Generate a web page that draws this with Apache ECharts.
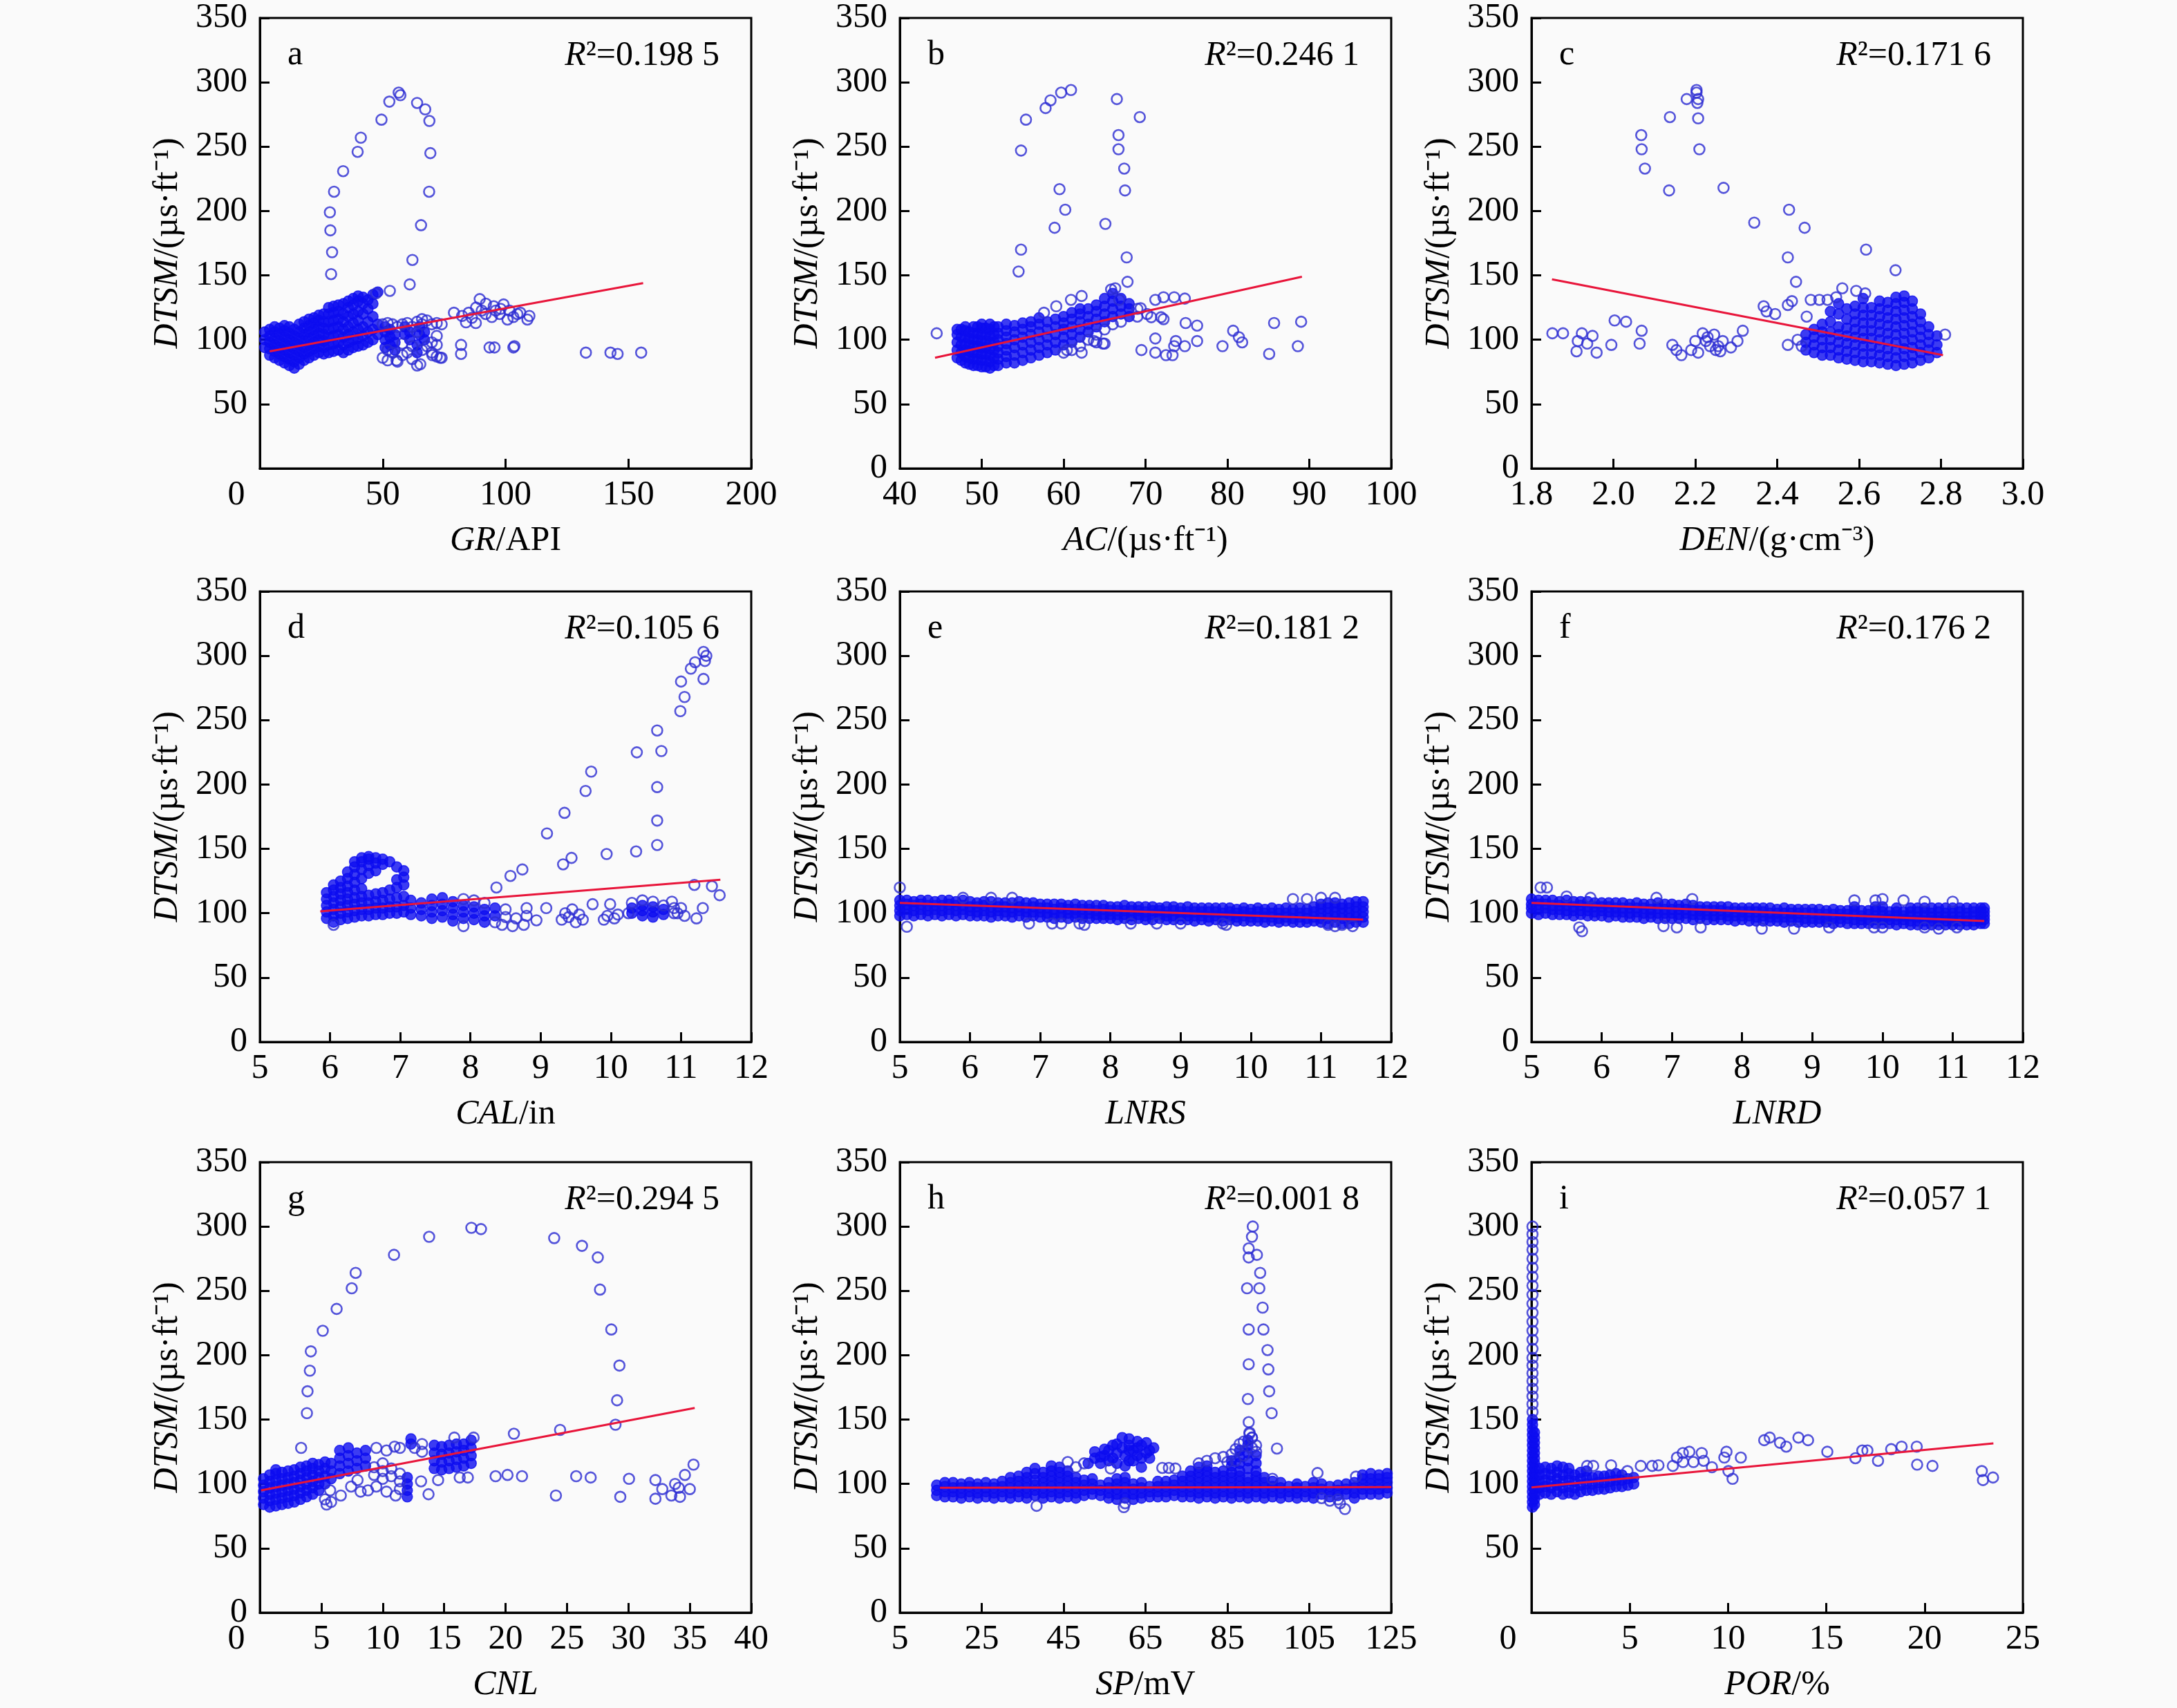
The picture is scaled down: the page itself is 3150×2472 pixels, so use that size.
<!DOCTYPE html>
<html>
<head>
<meta charset="utf-8">
<script src="https://cdn.jsdelivr.net/npm/echarts@6/dist/echarts.min.js"></script>
<style>
  html, body { margin: 0; padding: 0; background: #fafafa; }
  #chart { width: 3150px; height: 2472px; }
</style>
</head>
<body>
<div id="chart"></div>
<script>
// ---- data ----
// "cols" rows are [x, y1, y2, ...] (a stack of points at one x) for the dense clouds,
// "pts" are single [x, y] points, fit lines are [[x0, y0], [x1, y1]]

const aCols = [
  [2,94,100,106],[4,88,93,98,103,108],[6,86,91,96,101,106,110],[8,84,89,94,99,104,109],
  [10,82,87,92,97,102,107,111],[12,80,85,90,95,100,105,110],[14,78,83,88,93,98,103,108],
  [16,81,86,91,96,101,106,112],[18,84,89,94,99,104,109,114],[20,86,91,96,101,106,111,116],
  [22,88,93,98,103,108,113,117],[24,90,95,100,105,110,115,119],[26,89,94,99,104,109,114,120],
  [28,90,96,102,108,114,120,125],[30,91,97,103,109,115,121,126],[32,92,98,104,110,116,122,127],
  [34,90,96,102,108,114,120,128],[36,92,98,104,110,118,125,130],[38,94,100,106,113,120,127,132],
  [40,95,101,108,115,122,130,134],[42,96,103,110,120,128,133],[44,98,106,114,124,131],
  [46,100,108,118,128,135],[48,104,112,137],
  [51,94,100,106,110],[53,96,102,108],[55,92,98,104],[59,104,110],[61,100,106],[64,90,96],[65,104,110],[67,100,106]
];
const aBand = [
  [50,86,112],[52,84,92,113],[54,90,112],[56,83,110],[58,88,97,112],
  [60,90,113],[62,85,95,110],[64,80,106,114],[66,92,112,116],[68,95,115],
  [70,90,98,112],[72,87,96,103,113]
];
const aPts = [
  [29.0,151],[29.4,168],[28.7,185],[28.5,199],[30.2,215],[33.9,231],[39.8,246],[41.1,257],[49.5,271],
  [52.7,285],[56.5,292],[57.2,290],[64.0,284],[67.3,279],[69.0,270],[69.4,245],[68.9,215],[65.6,189],
  [62.1,162],[61.0,143],[52.9,138],[47.3,136],[74,86],[74,112],
  [81.9,96],[81.9,89],[93.5,94],[95.5,94],[103.2,94],[103.6,95],[132.7,90],[142.7,90],[145.6,89],[155.2,90],
  [79,121],[83.9,113.5],[89.5,131.6],[95.2,126],[99.2,127.4],[104.8,120],[108.9,115.7],[109.7,118.5],
  [86.3,117],[90.3,122.7],[91.9,120],[96,122.7],[101.6,122.7],[103.2,117.7],[82.3,118.5],[87.9,113],
  [94.4,117.7],[97.6,120],[100.8,115.7],[85,121],[88,125],[92,128],[98,124],[106,121],
  [73.4,86],[70.2,88],[65.3,81],[55.6,84]
];
const aFit = [[4,91],[156,144]];

const bCols = [
  [47,86,92,98,104,108],[47.5,84,90,96,102,108],[48,82,87,92,97,102,107,110],[48.5,81,86,91,96,101,106],
  [49,80,85,90,95,100,105,110],[49.5,80,85,90,95,100,105,110],[50,79,84,89,94,99,104,109,112],
  [50.5,79,84,89,94,99,104,109],[51,78,83,88,93,98,103,108,112],[51.5,80,86,92,98,104,110],
  [52,80,85,90,95,100,105,110],[53,82,87,92,97,102,107,112],[54,82,88,94,100,106,111],
  [55,84,90,96,102,108,113],[56,86,92,98,104,110,114],[57,88,94,100,106,112,117],[58,90,96,102,108,114],
  [59,92,98,104,110,116],[60,96,102,108,113,118],[61,98,104,110,116,121],[62,102,108,114,120,124],
  [63,106,112,118,124],[64,110,116,122,127],[65,114,120,126,132],[66,118,124,130,136],
  [67,120,126,132],[68,118,124,128]
];
const bPts = [
  [44.5,105],[54.5,153],[54.8,170],[54.8,247],[55.4,271],[57.8,280],[58.4,286],[59.7,292],[60.9,294],
  [59.5,217],[60.2,201],[58.9,187],[66.5,287],[66.7,259],[66.7,248],[67.4,233],[67.5,216],[65.1,190],
  [67.7,164],[67.8,145],[69.3,273],[65.8,139],
  [69.5,92],[71.2,101],[71.2,90],[72.2,116],[72.5,88],[73.3,88],[73.5,95],[73.7,99],[74.9,113],[74.8,95],
  [76.3,111],[76.3,99],[79.4,95],[80.7,107],[81.4,102],[81.8,98],[85.1,89],[85.7,113],[88.6,95],[89,114],
  [73.5,133],[74.8,132],[72.2,133],[71.2,131],[71.9,117.5],[70.7,117.5],[69.4,124.5],[70.2,120],
  [57.6,121],[59.1,126],[60.9,131],[62.2,134],[60.4,92],[62.2,90],[63.7,99],[64.8,97],[66.3,140],[66.8,131],
  [60,90],[61,92],[62,95],[63,100],[64,104],[64,98],[65,108],[65,97],[66,112],[67,114],[69,118],[69,124]
];
const bFit = [[44.3,86],[89.1,149]];

const cCols = [
  [2.47,92,98,104],[2.49,90,96,102,108],[2.51,88,94,100,106,112],[2.53,88,94,100,106,114,122],
  [2.55,86,92,98,104,110,120,128],[2.57,85,91,97,103,109,116,124],[2.59,84,90,96,102,108,114,120,126],
  [2.61,83,89,95,101,107,113,119,125,132],[2.63,83,89,95,101,107,113,119,125],
  [2.65,82,88,94,100,106,112,118,124,130],[2.67,81,87,93,99,105,111,117,123,129],
  [2.69,80,86,92,98,104,110,116,122,128,133],[2.71,81,87,93,99,105,111,117,123,129,134],
  [2.73,82,88,94,100,106,112,118,124,130],[2.75,84,90,96,102,108,114,120],[2.77,86,92,98,104,110],
  [2.79,90,96,103]
];
const cPts = [
  [2.068,259],[2.069,248],[2.077,233],[2.138,273],[2.136,216],[2.179,287],[2.203,294],[2.203,292],[2.205,284],
  [2.207,287],[2.207,272],[2.210,248],[2.269,218],[2.344,191],[2.429,201],[2.467,187],[2.426,164],[2.446,145],
  [2.617,170],[2.689,154],[2.81,104],
  [1.851,105],[1.877,105],[1.913,99],[1.910,91],[1.923,105],[1.936,97],[1.949,103],[1.959,90],[1.995,96],
  [2.003,115],[2.031,114],[2.069,107],[2.064,97],
  [2.144,96],[2.154,92],[2.166,88],[2.190,92],[2.200,99],[2.207,90],[2.218,105],[2.226,99],[2.236,95],
  [2.246,104],[2.256,95],[2.267,99],[2.261,91],[2.287,94],[2.303,99],[2.316,107],[2.23,102],[2.25,92],
  [2.367,126],[2.374,122],[2.395,120],[2.426,127],[2.436,130],[2.426,96],[2.482,131],[2.472,118],
  [2.503,131],[2.523,131],[2.559,140],[2.544,133],[2.593,138],[2.615,136],[2.45,100],[2.46,95]
];
const cFit = [[1.85,147],[2.805,88]];

const dCols = [
  [5.95,96,101,106,111,116],[6.05,93,98,103,108,113,118,122],[6.15,95,100,105,110,115,120,125],
  [6.25,96,101,106,111,116,121,127,132],[6.35,97,102,107,112,118,124,130,136,140],
  [6.45,98,103,108,113,119,127,134,140,143],[6.55,98,103,108,114,131,137,142,144],
  [6.65,99,104,109,115,133,139,143],[6.75,99,104,110,116,138,142],[6.85,100,105,111,118,140],
  [6.95,100,105,112,120,126,136],[7.05,101,106,113,122,128,133],[7.15,99,104,110],[7.3,98,103,108],
  [7.45,96,101,106,111],[7.6,97,102,107,112],[7.75,94,99,104,109],[7.9,96,101,106],
  [8.05,95,100,105],[8.2,93,98,103],[8.35,98,104],
  [10.3,100,104],[10.45,98,102,106],[10.6,97,101,105],[10.75,99,103]
];
const dPts = [
  [8.37,120],[8.57,129],[8.74,134],[9.09,162],[9.34,178],[9.32,138],[9.44,143],[9.64,195],[9.72,210],
  [9.94,146],[10.37,225],[10.36,148],[10.66,242],[10.72,226],[10.66,198],[10.66,172],[10.66,153],
  [10.99,257],[11.05,268],[11.0,280],[11.14,290],[11.20,295],[11.32,303],[11.34,296],[11.32,282],[11.36,300],
  [11.19,122],[11.44,121],[11.55,114],[11.31,104],[11.22,96],[9.74,107],[9.99,107],[9.08,104],[8.94,94.5],[8.76,91],
  [9.3,95],[9.35,100],[9.4,97],[9.5,93],[9.55,99],[9.6,95],[9.45,103],[9.9,95],[9.95,98],[10.05,96],[10.1,99],
  [10.25,100],[10.87,109],[10.95,100],[11.0,104],[11.05,98],[8.65,96],[8.8,98],[8.8,104],
  [6.05,91],[8.45,91],[8.6,90],[7.9,90],[7.9,111],[8.05,110],[8.2,108],[8.35,93],[8.5,97],[8.5,103],
  [10.45,110],[10.6,109],[10.75,106],[10.9,100],[10.9,104],[10.3,108]
];
const dFit = [[5.86,101.4],[11.56,126]];

const eCols = [
  [5.0,98,102,106,110],[5.1,99,103,107,110],[5.2,98,102,106,109],[5.3,99,103,107,110],[5.4,98,102,106,110],
  [5.5,99,103,106,109],[5.6,98,102,106,110],[5.7,99,103,107,110],[5.8,98,102,106,109],[5.9,99,103,106,110],
  [6.0,98,102,105,109],[6.1,98,101,105,108],[6.2,98,102,106,109],[6.3,97,101,105,109],[6.4,98,102,105,108],
  [6.5,98,101,105,108],[6.6,97,101,104,108],[6.7,98,102,105,109],[6.8,97,101,104,108],[6.9,98,101,105,108],
  [7.0,97,101,104,107],[7.1,97,100,104,107],[7.2,96,100,103,107],[7.3,97,100,104,107],[7.4,96,100,103,106],
  [7.5,97,100,103,107],[7.6,96,99,103,106],[7.7,96,100,103,106],[7.8,96,99,102,106],[7.9,96,99,103,106],
  [8.0,96,99,102,105],[8.1,95,99,102,105],[8.2,96,99,102,106],[8.3,95,98,102,105],[8.4,96,99,102,105],
  [8.5,95,98,101,105],[8.6,95,99,102,105],[8.7,96,99,102,104],[8.8,95,98,101,105],[8.9,95,98,102,105],
  [9.0,95,98,101,104],[9.1,95,98,101,105],[9.2,94,98,101,104],[9.3,95,98,101,104],[9.4,94,97,101,104],
  [9.5,95,98,101,104],[9.6,94,97,100,104],[9.7,95,98,101,104],[9.8,94,97,100,103],[9.9,94,98,101,104],
  [10.0,94,97,100,103],[10.1,94,97,101,104],[10.2,93,97,100,103],[10.3,94,97,100,104],[10.4,93,96,100,103],
  [10.5,94,97,100,104],[10.6,93,96,100,103],[10.7,93,97,100,104],[10.8,93,96,100,103],[10.9,94,97,101,105],
  [11.0,93,96,100,104,107],[11.1,92,96,100,104,108],[11.2,93,97,101,105,108],[11.3,92,96,100,104,107],
  [11.4,92,96,100,104,108],[11.5,93,97,101,105,109],[11.6,93,97,101,105,109]
];
const ePts = [
  [5.0,120],[5.1,89.5],[6.84,92],[7.17,92],[7.3,92],[7.56,92],[7.63,91],[8.29,92],[8.66,92],[9.0,92],
  [9.6,92],[9.65,91],[11.1,91],[11.2,90],[11.3,91],[11.45,90],[10.6,111],[10.8,111],[11.0,112],[11.2,112],
  [5.9,112],[6.3,112],[6.6,112]
];
const eFit = [[5.0,108],[11.6,95]];

const fCols = [
  [5.0,100,104,107,111],[5.1,99,103,107,110],[5.2,100,104,107,110],[5.3,99,103,106,110],[5.4,99,103,106,109],
  [5.5,99,102,106,110],[5.6,98,102,105,109],[5.7,99,102,106,109],[5.8,98,102,105,109],[5.9,98,101,105,108],
  [6.0,98,102,105,108],[6.1,97,101,105,108],[6.2,98,101,104,108],[6.3,97,101,104,108],[6.4,97,100,104,107],
  [6.5,97,101,104,108],[6.6,96,100,104,107],[6.7,97,100,103,107],[6.8,96,100,104,108],[6.9,96,100,103,107],
  [7.0,96,100,103,107],[7.1,96,99,103,106],[7.2,96,100,103,107],[7.3,95,99,102,106],[7.4,96,99,102,105],
  [7.5,95,99,102,105],[7.6,95,98,102,105],[7.7,95,99,102,105],[7.8,95,98,101,105],[7.9,94,98,101,104],
  [8.0,95,98,101,104],[8.1,94,98,101,104],[8.2,94,97,101,104],[8.3,94,98,101,104],[8.4,94,97,100,104],
  [8.5,94,97,100,103],[8.6,93,97,100,104],[8.7,94,97,100,103],[8.8,93,97,100,103],[8.9,93,96,100,103],
  [9.0,93,96,100,103],[9.1,93,96,99,103],[9.2,93,96,99,102],[9.3,92,96,99,103],[9.4,93,96,99,102],
  [9.5,92,96,99,102],[9.6,92,95,99,102,105],[9.7,92,95,98,102],[9.8,92,95,99,102],[9.9,92,95,98,102,105],
  [10.0,92,95,98,101,105],[10.1,92,95,98,101],[10.2,91,95,98,101,104],[10.3,92,95,98,101],[10.4,91,94,98,101,104],
  [10.5,91,94,97,101,104],[10.6,91,94,98,101,104],[10.7,91,94,97,100,104],[10.8,91,94,97,101,104],
  [10.9,91,94,97,100,104],[11.0,91,94,97,100,104],[11.1,91,94,97,101,104],[11.2,91,94,97,100,104],
  [11.3,91,94,98,101,104],[11.4,92,95,98,101,104],[11.45,92,95,98,101,104]
];
const fPts = [
  [5.13,120],[5.22,120],[5.68,89],[5.72,86],[6.88,90],[7.07,89],[7.41,89],[8.28,88],[8.74,88],[9.24,89],
  [9.88,89],[10.0,89],[10.6,89],[10.8,88],[11.06,89],[5.5,113],[5.84,112],[6.78,112],[7.29,111],[9.6,110],
  [9.9,110],[10.0,111],[10.3,110],[10.6,109],[11.0,109]
];
const fFit = [[5.0,108],[11.45,94]];

const gCols = [
  [0.3,84,89,94,99,104],[0.8,82,87,92,97,102,107],[1.3,83,88,93,98,103,108,111],[1.8,84,89,94,99,104,109],
  [2.3,85,90,95,100,105,110],[2.8,86,91,96,101,106,111],[3.3,88,93,98,103,108,113],[3.8,90,95,100,105,110,114],
  [4.3,92,97,102,107,112,116],[4.8,95,100,105,110,115],[5.3,100,106,112,117],[5.8,104,110,116],
  [6.5,108,114,120,126],[7.2,110,116,122,128],[7.9,112,118,124],[8.6,114,120,126],
  [12.0,90,95,100,105],[12.3,131,135],
  [14.2,112,118,124,130],[14.8,111,117,123,129],[15.4,112,118,124,130],[16.0,113,119,125,131],
  [16.6,114,120,126,131],[17.2,116,122,128,134]
];
const gPts = [
  [3.83,155],[3.88,172],[4.07,188],[4.15,203],[3.36,128],[5.12,219],[6.25,236],[7.48,252],[7.8,264],
  [10.92,278],[13.78,292],[17.22,299],[18.0,298],[23.96,291],[26.22,285],[27.51,276],[27.69,251],[28.61,220],
  [29.27,192],[29.08,165],[28.95,146],[24.44,142],[20.68,139],
  [24.1,91],[25.75,106],[26.93,105],[29.34,90],[30.05,104],[32.2,103],[32.2,88.5],[32.76,96],[33.5,91],
  [33.8,100],[34.2,90],[34.1,97],[34.6,107],[35.0,96],[35.3,115],
  [19.19,106],[20.16,107],[21.34,106],[16.27,105],[16.93,105],[14.51,103],[13.12,102],[13.73,92],[11.05,91],
  [10.31,94],[9.48,98],[8.8,95],[8.2,94],[7.43,98],[6.59,91],[7.95,103],[5.72,95],[5.43,84],[9.48,128],
  [10.31,126],[10.97,129],[17.4,136],[15.83,136],[5.3,88],[5.8,86],[9.3,107],[9.3,113],[10.0,104],
  [10.0,110],[10.0,116],[10.7,106],[10.7,112],[11.4,96],[11.4,102],[11.4,108],[11.4,128],[12.6,128],[13.2,125],[13.2,131]
];
const gFit = [[0.1,95],[35.4,159]];

const hCols = [
  [14,91,95,99],[16,90,94,98,101],[18,90,94,97,101],[20,89,93,97,100],[22,90,94,98,101],[24,89,93,97,100],
  [26,90,94,97,101],[28,89,93,97,100],[30,90,94,98,102],[32,89,93,97,101,105],[34,90,94,98,102,106],
  [36,89,93,97,101,105,109],[38,91,95,99,103,108,112],[40,89,93,97,101,105,109],
  [42,90,94,98,102,106,110,114],[44,89,93,97,101,105,109,113],[46,90,94,98,102,106,110],[48,89,93,97,101,105],
  [50,91,95,99,103],[52,92,96,100,104],[54,91,95,99],[56,89,93,97,101],[58,88,92,96,100,104],
  [60,89,93,97,101,105],[62,88,92,96,100],[64,89,93,97,101],[66,90,94,98],[68,90,94,98,102],
  [70,90,94,98,102],[72,91,95,99,103],[74,90,94,98,102,106],[76,90,94,98,102,106,110],
  [78,89,93,97,101,105,109,113],[80,90,94,98,102,106,110,114],[82,89,93,97,101,105,109],
  [84,90,94,98,102,106,110],[86,89,93,97,101,105,109,114,118],[88,90,94,98,102,106,110,116,121,126],
  [90,89,93,97,101,105,112,118,124,130,134],[92,90,94,98,102,106,110,116,122],[94,89,93,97,101,105],
  [96,90,94,98,102],[98,89,93,97,101],[100,90,94,98],[102,89,93,97,100],[104,90,94,98],[106,89,93,97,101],
  [108,92,96,100],[110,90,94,98],[112,91,95,99],[114,92,96,100],[116,89,93,97,101],
  [118,92,96,100,104,107],[120,92,96,100,104,108],[122,92,96,100,104,107],[124,93,97,101,105,108],
  [51,116],[52.6,120,125],[54,116,121],[55,122,127],[56,118,126],[57,120,130],[58,116,124,131],[59.3,128,136],
  [60,114,122],[61,118,126,130,135],[62,118,126],[63,122,128,133],[64,113,120,130],[65.2,124,132],[66,120,126],[67,128]
];
const hPts = [
  [50,116],[69.1,112.5],[70.7,112.5],[72.3,112],[56.5,112],[46,117],[48,113],
  [78,116],[80,118],[82,120],[84,121],[85,117],[86,123],[87,127],[88,131],[89,133],[90.4,139],[91,136],
  [91,128],[92,130],[92,125],[89,122],[87,118],
  [91.2,300],[91.0,292],[90.2,283],[92.2,278],[90.2,276],[93.0,264],[89.8,252],[92.8,252],[93.6,237],
  [90.2,220],[93.8,220],[94.8,204],[90.2,193],[95.0,189],[95.2,172],[90.0,166],[95.8,155],[90.2,148],
  [97.1,127.5],[90.4,140],[91.0,136],
  [38.4,83],[59.7,82],[60,85],[113.7,80.5],[112.5,85],[108,89],[110,87],[112,88],[107,108.5],[116.4,105.7],[96,104]
];
const hFit = [[14.8,97],[125,97.5]];
const hTicks = [5, 25, 45, 65, 85, 105, 125];

const iCols = [
  [0.05,82,86,90,94,98,102,106,110,114,118,122,126,130,134,138,142,146,150],
  [0.15,84,88,92,96,100,104,108,112,116,120,124,128,132,136,140],
  [0.4,92,97,102,107,112],[0.7,93,98,103,108,113],[1.0,92,97,102,107,112],[1.3,94,99,104,109,114],
  [1.6,92,97,102,107,113],[1.9,93,98,103,108,112],[2.2,92,97,102,107],[2.5,94,99,104,109],
  [2.8,95,100,105,110],[3.1,95,100,105],[3.4,96,101,106],[3.7,96,101,106],[4.0,97,102,107],
  [4.3,98,103,108],[4.6,98,103,107],[4.9,99,104],[5.2,100,105]
];
const iStripe = [0.05,156,162,168,174,180,186,192,198,205,212,219,226,233,240,247,254,261,268,275,282,288,294,300];
const iPts = [
  [2.83,114],[3.14,114],[4.05,114.5],[4.88,110],[5.56,114],[6.14,114],[6.46,114.5],[7.19,114],[7.4,120.5],
  [7.7,124],[8.03,125],[8.66,124],[8.76,118],[7.71,117],[8.24,117],[9.18,113],[9.81,120.5],[9.92,125],
  [10.02,110],[10.23,104],[10.65,120.5],[11.84,134],[12.12,136],[12.64,132],[12.96,129],[13.58,136],
  [14.07,134],[15.05,125],[16.48,120],[16.83,126],[17.09,126],[17.63,118],[18.3,127],[18.83,129],
  [19.6,129],[19.62,115],[20.4,114],[22.91,110],[22.97,103],[23.48,105]
];
const iFit = [[0,97.3],[23.5,131.5]];

// ---- layout / style ----
const FONT = '"Liberation Serif","Times New Roman",serif';
const FS = 50;
const RING = '#2a2ad2';
const SOLID = '#0c0cf0';
const RED = '#e8153a';
const colLeft = [376, 1302, 2216];
const rowTop = [26, 856, 1682];
const W = 711, H = 652;

const rich = {
  i: { fontFamily: FONT, fontSize: FS, fontStyle: 'italic', color: '#000' },
  n: { fontFamily: FONT, fontSize: FS, color: '#000' },
  z: { fontFamily: FONT, fontSize: FS, color: '#000', padding: [0, 68, 0, 0] }
};

const expand = (cols) => cols.flatMap(r => r.slice(1).map(y => [r[0], y]));

const panels = [
  { letter: 'a', r2: '0.198 5', dense: expand(aCols), pts: aPts.concat(expand(aBand)), fit: aFit, x: [0, 200, 50], name: '{i|GR}{n|/API}', hideY0: true, shift0: true },
  { letter: 'b', r2: '0.246 1', dense: expand(bCols), pts: bPts, fit: bFit, x: [40, 100, 10], name: '{i|AC}{n|/(µs·ft⁻¹)}' },
  { letter: 'c', r2: '0.171 6', dense: expand(cCols), pts: cPts, fit: cFit, x: [1.8, 3.0, 0.2], name: '{i|DEN}{n|/(g·cm⁻³)}', dec: 1 },
  { letter: 'd', r2: '0.105 6', dense: expand(dCols), pts: dPts, fit: dFit, x: [5, 12, 1], name: '{i|CAL}{n|/in}' },
  { letter: 'e', r2: '0.181 2', dense: expand(eCols), pts: ePts, fit: eFit, x: [5, 12, 1], name: '{i|LNRS}' },
  { letter: 'f', r2: '0.176 2', dense: expand(fCols), pts: fPts, fit: fFit, x: [5, 12, 1], name: '{i|LNRD}' },
  { letter: 'g', r2: '0.294 5', dense: expand(gCols), pts: gPts, fit: gFit, x: [0, 40, 5], name: '{i|CNL}', shift0: true },
  { letter: 'h', r2: '0.001 8', dense: expand(hCols), pts: hPts, fit: hFit, x: [5, 125, 20], name: '{i|SP}{n|/mV}', custom: hTicks },
  { letter: 'i', r2: '0.057 1', dense: expand(iCols), pts: iPts.concat(expand([iStripe])), fit: iFit, x: [0, 25, 5], name: '{i|POR}{n|/%}', hideY0: true, shift0: true }
];

const grids = [], xAxes = [], yAxes = [], series = [], graphics = [];

panels.forEach((p, k) => {
  const L = colLeft[k % 3], T = rowTop[Math.floor(k / 3)];
  grids.push({ left: L, top: T, width: W, height: H, show: true, borderColor: '#000', borderWidth: 3, backgroundColor: 'transparent' });

  const tick = { show: true, inside: true, length: 14, lineStyle: { color: '#000', width: 3 } };
  const xLabel = { fontFamily: FONT, fontSize: FS, color: '#000', margin: 14, rich: rich };
  if (p.dec) xLabel.formatter = v => Number(v).toFixed(p.dec);
  if (p.shift0) xLabel.formatter = v => (v === 0 ? '{z|0}' : String(v));
  if (p.custom) { xLabel.customValues = p.custom; tick.customValues = p.custom; }

  xAxes.push({
    gridIndex: k, type: 'value', min: p.x[0], max: p.x[1], interval: p.x[2],
    axisLine: { show: true, lineStyle: { color: '#000', width: 3 } },
    axisTick: tick, splitLine: { show: false }, axisLabel: xLabel,
    name: p.name, nameLocation: 'middle', nameGap: 80,
    nameTextStyle: { fontFamily: FONT, fontSize: FS, color: '#000', rich: rich }
  });
  yAxes.push({
    gridIndex: k, type: 'value', min: 0, max: 350, interval: 50,
    axisLine: { show: true, lineStyle: { color: '#000', width: 3 } },
    axisTick: { show: true, inside: true, length: 14, lineStyle: { color: '#000', width: 3 } },
    splitLine: { show: false },
    axisLabel: { fontFamily: FONT, fontSize: FS, color: '#000', margin: 18, showMinLabel: !p.hideY0 },
    name: '{i|DTSM}{n|/(µs·ft⁻¹)}', nameLocation: 'middle', nameGap: 108, nameRotate: 90,
    nameTextStyle: { fontFamily: FONT, fontSize: FS, color: '#000', rich: rich }
  });

  // dense clouds: overlapping markers read as solid blue
  series.push({
    type: 'scatter', xAxisIndex: k, yAxisIndex: k, silent: true,
    data: p.dense, symbol: 'circle', symbolSize: 15,
    itemStyle: { color: SOLID, borderColor: SOLID, borderWidth: 1.5 }
  });
  // single points: thin rings
  series.push({
    type: 'scatter', xAxisIndex: k, yAxisIndex: k, silent: true,
    data: p.pts, symbol: 'circle', symbolSize: 15,
    itemStyle: { color: 'transparent', borderColor: RING, borderWidth: 2.6 }
  });
  series.push({
    type: 'line', xAxisIndex: k, yAxisIndex: k, silent: true, z: 5,
    data: p.fit, showSymbol: false,
    lineStyle: { color: RED, width: 3 }
  });

  graphics.push({
    type: 'text', left: L + 40, top: T + 29, z: 10,
    style: { text: p.letter, fontFamily: FONT, fontSize: FS, fill: '#000' }
  });
  graphics.push({
    type: 'text', right: 3150 - (L + W) + 46, top: T + 30, z: 10,
    style: { text: '{i|R}{n|²=' + p.r2 + '}', rich: rich, fontFamily: FONT, fontSize: FS, fill: '#000' }
  });
});

const chart = echarts.init(document.getElementById('chart'), null, { renderer: 'canvas' });
chart.setOption({
  backgroundColor: '#fafafa',
  animation: false,
  grid: grids,
  xAxis: xAxes,
  yAxis: yAxes,
  series: series,
  graphic: graphics
});
</script>
</body>
</html>
